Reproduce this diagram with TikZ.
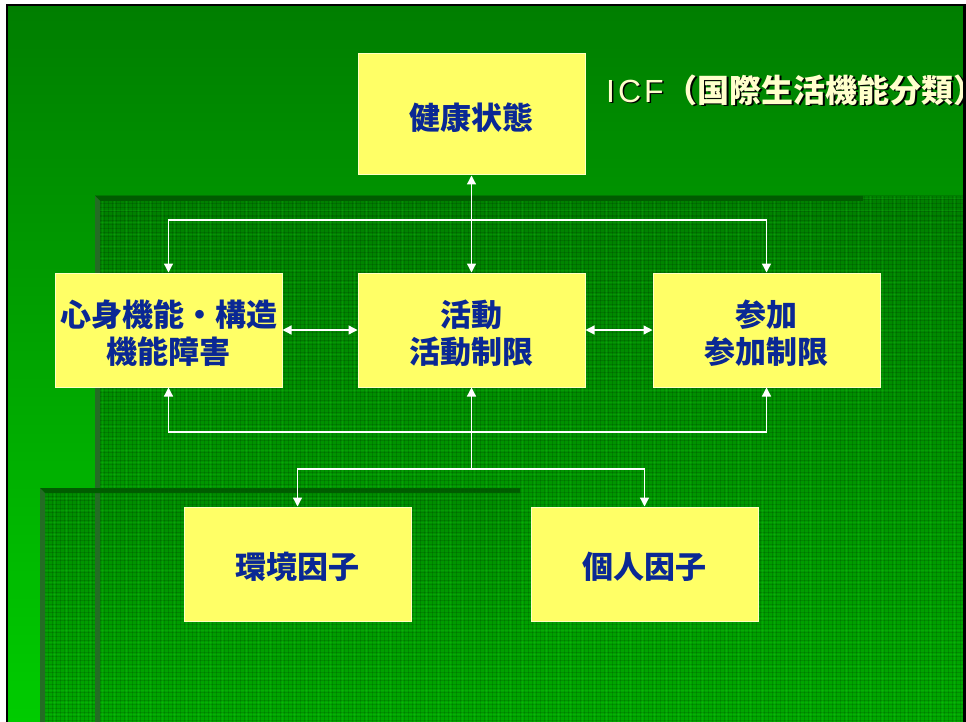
\documentclass[tikz,border=0pt]{standalone}
\usepackage{fontspec}
\setmainfont{Liberation Sans}
\newfontfamily\jp{Noto Sans CJK JP}
\usetikzlibrary{arrows.meta}
\definecolor{boxy}{RGB}{255,255,102}
\definecolor{navy}{RGB}{10,40,148}
\definecolor{gtop}{RGB}{0,126,0}
\definecolor{gbot}{RGB}{0,204,0}
\definecolor{ttop}{RGB}{0,128,0}
\definecolor{tbot}{RGB}{0,168,0}
\definecolor{edgedark}{RGB}{0,92,0}
\definecolor{edgeside}{RGB}{36,108,36}
\definecolor{titley}{RGB}{255,255,204}
\begin{document}
\begin{tikzpicture}[x=1pt,y=-1pt,
  box/.style={fill=boxy,draw=white!60!boxy,line width=1pt,minimum width=227pt,minimum height=114pt,inner sep=0pt},
  lbl/.style={inner sep=0pt,align=center,text=navy,font=\jp\bfseries\fontsize{31}{37}\selectfont},
  link/.style={draw=white,line width=1.3pt},
  tip/.style={link,-{Triangle[width=9pt,length=9pt]}},
  both/.style={link,{Triangle[width=9pt,length=9pt]}-{Triangle[width=9pt,length=9pt]}},
  ttl/.style={anchor=west,inner sep=0pt,font=\fontsize{32}{38}\selectfont}]
\useasboundingbox (0,0) rectangle (966,722);
\fill[white] (0,0) rectangle (966,722);
\fill[black] (6,4) rectangle (966,722);
\shade[top color=gtop,bottom color=gbot] (8,7) rectangle (963,722);
% textured areas
\shade[top color=ttop,bottom color=tbot] (95,196) rectangle (963,722);
\shade[top color=ttop!70!tbot,bottom color=tbot] (40,488) rectangle (520,722);
\begin{scope}
  \clip (95,196) rectangle (963,722) (40,488) rectangle (520,722);
  \foreach \i in {0,...,232} \draw[black,opacity=0.13,line width=1pt] ({40+4*\i},196) -- ++(0,526);
  \foreach \j in {0,...,132} \draw[black,opacity=0.13,line width=1pt] (40,{196+4*\j}) -- ++(923,0);
  \foreach \i in {0,...,77} \draw[green!80!white,opacity=0.10,line width=0.8pt] ({42+12*\i},196) -- ++(0,526);
  \foreach \j in {0,...,44} \draw[green!80!white,opacity=0.10,line width=0.8pt] (40,{198+12*\j}) -- ++(923,0);
\end{scope}
% bevel edges
\fill[edgedark] (95,196) -- (863,196) -- (863,201) -- (100,201) -- cycle;
\fill[edgeside] (95,196) -- (100,201) -- (100,722) -- (95,722) -- cycle;
\fill[edgedark] (40,488) -- (520,488) -- (520,493) -- (45,493) -- cycle;
\fill[edgeside] (40,488) -- (45,493) -- (45,722) -- (40,722) -- cycle;
% boxes
\node[box,minimum height=121pt] (kk) at (471.5,114.5) {};
\node[box] (sk) at (168.5,330) {};
\node[box] (kd) at (471.5,330) {};
\node[box] (sa) at (766.5,330) {};
\node[box] (env) at (297.5,564) {};
\node[box] (per) at (644.5,564) {};
\node[lbl] (kkt) at ([yshift=-3pt]kk.center) {健康状態};
\node[lbl] (skt) at ([yshift=-3pt]sk.center) {心身機能・構造\\機能障害};
\node[lbl] (kdt) at ([yshift=-3pt]kd.center) {活動\\活動制限};
\node[lbl] (sat) at ([yshift=-3pt]sa.center) {参加\\参加制限};
\node[lbl] (envt) at ([yshift=-3pt]env.center) {環境因子};
\node[lbl] (pert) at ([yshift=-3pt]per.center) {個人因子};
% title
\node[ttl,text=black] (titleshadow) at (607.5,91.5) {I\kern3pt C\kern3pt F\kern2pt{\jp\bfseries （国際生活機能分類）}};
\node[ttl,text=titley] (title) at (606,90) {I\kern3pt C\kern3pt F\kern2pt{\jp\bfseries （国際生活機能分類）}};
% connectors
\coordinate (topbar) at (471.5,220);
\coordinate (botbar) at (471.5,432);
\coordinate (envbar) at (471.5,469);
\draw[both] (kk.south) -- (kd.north);
\draw[tip] (topbar) -| (sk.north);
\draw[tip] (topbar) -| (sa.north);
\draw[both] (sk.east) -- (kd.west);
\draw[both] (kd.east) -- (sa.west);
\draw[tip] (botbar) -| (sk.south);
\draw[tip] (botbar) -| (sa.south);
\draw[tip] (envbar) -- (kd.south);
\draw[tip] (envbar) -| (env.north);
\draw[tip] (envbar) -| (per.north);
% right frame edge
\fill[black] (963,4) rectangle (966,722);
\end{tikzpicture}
\end{document}
